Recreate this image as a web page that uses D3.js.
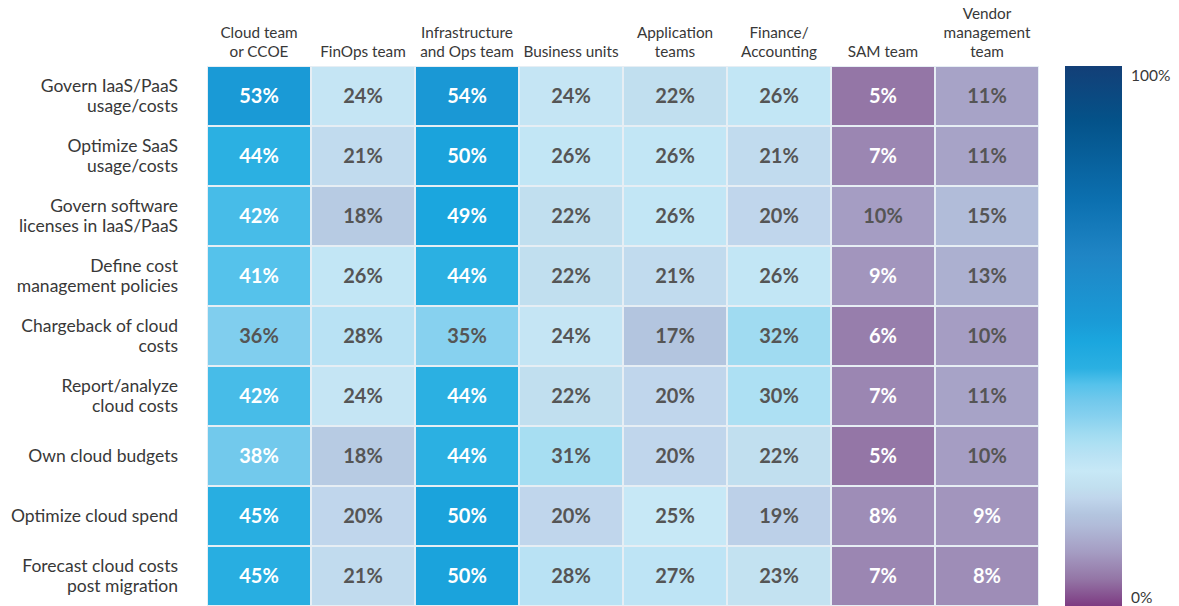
<!DOCTYPE html>
<html>
<head>
<meta charset="utf-8">
<script src="https://cdn.jsdelivr.net/npm/d3@7"></script>
<style>
  body { margin: 0; background: #fff; }
  svg { display: block; font-family: "Lato", "Noto Sans", sans-serif; }
  .row-label { font-size: 17.5px; fill: #383838; }
  .col-label { font-size: 15.3px; fill: #383838; }
  .cell-text { font-size: 20px; font-weight: 700; }
  .legend-label { font-size: 15.5px; fill: #383838; }
</style>
</head>
<body>
<div id="chart"></div>
<script>
// ---- data ----
const rows = [
  ["Govern IaaS/PaaS", "usage/costs"],
  ["Optimize SaaS", "usage/costs"],
  ["Govern software", "licenses in IaaS/PaaS"],
  ["Define cost", "management policies"],
  ["Chargeback of cloud", "costs"],
  ["Report/analyze", "cloud costs"],
  ["Own cloud budgets"],
  ["Optimize cloud spend"],
  ["Forecast cloud costs", "post migration"]
];

const columns = [
  ["Cloud team", "or CCOE"],
  ["FinOps team"],
  ["Infrastructure", "and Ops team"],
  ["Business units"],
  ["Application", "teams"],
  ["Finance/", "Accounting"],
  ["SAM team"],
  ["Vendor", "management", "team"]
];

const values = [
  [53, 24, 54, 24, 22, 26, 5, 11],
  [44, 21, 50, 26, 26, 21, 7, 11],
  [42, 18, 49, 22, 26, 20, 10, 15],
  [41, 26, 44, 22, 21, 26, 9, 13],
  [36, 28, 35, 24, 17, 32, 6, 10],
  [42, 24, 44, 22, 20, 30, 7, 11],
  [38, 18, 44, 31, 20, 22, 5, 10],
  [45, 20, 50, 20, 25, 19, 8, 9],
  [45, 21, 50, 28, 27, 23, 7, 8]
];

const legendTicks = ["0%", "100%"];

// colour ramp (percent -> colour)
const stopValues = [0, 5, 10, 15, 17, 20, 22, 25, 28, 30, 32, 35, 38, 41, 44, 49, 53, 65, 75, 90, 100];
const stopColors = ["#7d3b82", "#9476a6", "#a59dc3", "#b1bcd9", "#b3c5df", "#c0d6ec", "#c1dfef",
  "#c7e8f6", "#b9e2f4", "#ade0f3", "#a0dbf1", "#87d1ef", "#72c9ec", "#55c2eb", "#2bb0e2",
  "#1ba6de", "#1a9ad6", "#1f85c5", "#0c70b0", "#045289", "#133f77"];

// ---- layout ----
const width = 1179, height = 606;
const grid = { left: 207, top: 66, right: 1039, bottom: 606 };
const legend = { x: 1065, w: 57 };

const svg = d3.select("#chart").append("svg")
  .attr("width", width)
  .attr("height", height);

const x = d3.scaleBand()
  .domain(d3.range(columns.length))
  .range([grid.left, grid.right]);

const y = d3.scaleBand()
  .domain(d3.range(rows.length))
  .range([grid.top, grid.bottom]);

const color = d3.scaleLinear()
  .domain(stopValues)
  .range(stopColors)
  .interpolate(d3.interpolateRgb)
  .clamp(true);

// ---- cells ----
const cells = [];
values.forEach((r, i) => r.forEach((v, j) => cells.push({ i, j, v })));

svg.append("rect")
  .attr("x", grid.left).attr("y", grid.top)
  .attr("width", grid.right - grid.left).attr("height", grid.bottom - grid.top)
  .attr("fill", "#e6eef4");

svg.selectAll(".cell")
  .data(cells)
  .enter().append("rect")
  .attr("class", "cell")
  .attr("x", d => x(d.j) + 1)
  .attr("y", d => y(d.i) + 1)
  .attr("width", x.bandwidth() - 2)
  .attr("height", y.bandwidth() - 2)
  .attr("fill", d => color(d.v));

svg.selectAll(".cell-text")
  .data(cells)
  .enter().append("text")
  .attr("class", "cell-text")
  .attr("x", d => x(d.j) + x.bandwidth() / 2)
  .attr("y", d => y(d.i) + y.bandwidth() / 2)
  .attr("dy", "0.36em")
  .attr("text-anchor", "middle")
  .attr("fill", d => (d.v >= 38 || d.v < 10) ? "#ffffff" : "#555555")
  .text(d => d.v + "%");

// ---- row labels ----
const rowG = svg.selectAll(".row-label")
  .data(rows)
  .enter().append("text")
  .attr("class", "row-label")
  .attr("text-anchor", "end");

rowG.selectAll("tspan")
  .data((d, i) => d.map((t, k) => ({ t, k, n: d.length, i })))
  .enter().append("tspan")
  .attr("x", 178)
  .attr("y", d => y(d.i) + y.bandwidth() / 2 + (d.k - (d.n - 1) / 2) * 20)
  .attr("dy", "0.35em")
  .text(d => d.t);

// ---- column labels (bottom aligned) ----
const colG = svg.selectAll(".col-label")
  .data(columns)
  .enter().append("text")
  .attr("class", "col-label")
  .attr("text-anchor", "middle");

colG.selectAll("tspan")
  .data((d, j) => d.map((t, k) => ({ t, k, n: d.length, j })))
  .enter().append("tspan")
  .attr("x", d => x(d.j) + x.bandwidth() / 2)
  .attr("y", d => 57 - (d.n - 1 - d.k) * 19)
  .text(d => d.t);

// ---- legend ----
const defs = svg.append("defs");
const grad = defs.append("linearGradient")
  .attr("id", "legend-grad")
  .attr("x1", 0).attr("y1", 1).attr("x2", 0).attr("y2", 0);

grad.selectAll("stop")
  .data(stopValues)
  .enter().append("stop")
  .attr("offset", d => d / 100)
  .attr("stop-color", (d, i) => stopColors[i]);

const legendScale = d3.scaleLinear()
  .domain([0, 100])
  .range([grid.bottom, grid.top]);

svg.append("rect")
  .attr("x", legend.x)
  .attr("y", legendScale(100))
  .attr("width", legend.w)
  .attr("height", legendScale(0) - legendScale(100))
  .attr("fill", "url(#legend-grad)");

svg.selectAll(".legend-label")
  .data(legendTicks)
  .enter().append("text")
  .attr("class", "legend-label")
  .attr("x", 1131)
  .attr("y", (d, i) => i === 0 ? legendScale(0) - 3 : legendScale(100) + 15)
  .text(d => d);
</script>
</body>
</html>
